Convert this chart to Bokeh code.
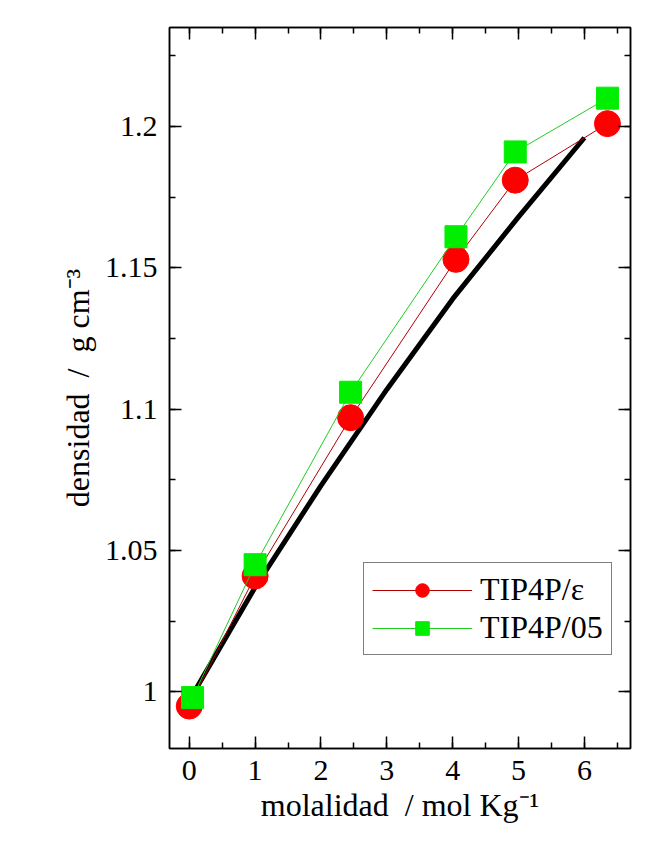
from bokeh.plotting import figure
from bokeh.models import (SingleIntervalTicker, LinearAxis, CustomJSTickFormatter,
                          Legend, LegendItem, Range1d)
from bokeh.embed import file_html
from bokeh.resources import INLINE

# Data
exp_m = [0, 1, 2, 3, 4, 5, 6]
exp_rho = [0.997, 1.037, 1.073, 1.107, 1.139, 1.168, 1.196]

eps_m = [0.0, 1.0, 2.45, 4.05, 4.95, 6.35]
eps_rho = [0.995, 1.041, 1.097, 1.153, 1.181, 1.201]

t05_m = [0.05, 1.0, 2.45, 4.05, 4.95, 6.35]
t05_rho = [0.998, 1.045, 1.106, 1.161, 1.191, 1.210]

series_names = ["TIP4P/\u03b5", "TIP4P/05"]
x_label = "molalidad\u00a0\u00a0/ mol Kg\u207b\u00b9"
y_label = "densidad\u00a0\u00a0/\u00a0\u00a0g cm\u207b\u00b3"

FONT = "Liberation Serif"

p = figure(width=655, height=843, output_backend="svg", toolbar_location=None,
           x_range=Range1d(-0.3, 6.7), y_range=Range1d(0.98, 1.235),
           min_border_left=169, min_border_right=25, min_border_top=27,
           min_border_bottom=95)
p.background_fill_color = "white"
p.border_fill_color = "white"
p.outline_line_color = "black"
p.outline_line_width = 1.5
p.xgrid.visible = False
p.ygrid.visible = False

xt = SingleIntervalTicker(interval=1, num_minor_ticks=2)
yt = SingleIntervalTicker(interval=0.05, num_minor_ticks=2)
yfmt = CustomJSTickFormatter(code="return tick.toFixed(2).replace(/\\.?0+$/, '');")
blank = CustomJSTickFormatter(code="return '';")


def style_axis(ax, labels=True):
    ax.major_tick_in = 12
    ax.major_tick_out = 0
    ax.minor_tick_in = 6
    ax.minor_tick_out = 0
    ax.major_tick_line_color = "black"
    ax.minor_tick_line_color = "black"
    ax.major_tick_line_width = 1.5
    ax.minor_tick_line_width = 1.5
    ax.axis_line_color = "black"
    ax.axis_line_width = 1.5
    ax.major_label_text_font = FONT
    ax.major_label_text_color = "black"
    ax.axis_label_text_font = FONT
    ax.axis_label_text_font_style = "normal"
    ax.axis_label_text_color = "black"
    ax.major_label_text_font_size = "30px"
    ax.axis_label_text_font_size = "32px"
    ax.major_label_standoff = 12 if labels else 0


p.xaxis.ticker = xt
p.yaxis.ticker = yt
p.yaxis.formatter = yfmt
p.xaxis.axis_label = x_label
p.yaxis.axis_label = y_label
style_axis(p.xaxis[0])
style_axis(p.yaxis[0])
p.xaxis.axis_label_standoff = 4
p.yaxis.axis_label_standoff = 6

top = LinearAxis(ticker=xt, formatter=blank)
style_axis(top, labels=False)
p.add_layout(top, "above")
right = LinearAxis(ticker=yt, formatter=blank)
style_axis(right, labels=False)
p.add_layout(right, "right")

# Experimental line
p.line(exp_m, exp_rho, line_color="black", line_width=5)

# TIP4P/eps
l1 = p.line(eps_m, eps_rho, line_color="#b00000", line_width=1)
s1 = p.scatter(eps_m, eps_rho, marker="circle", size=26, fill_color="#ff0000",
               line_color="#ff0000")
# TIP4P/05
l2 = p.line(t05_m, t05_rho, line_color="#22cc22", line_width=1)
s2 = p.scatter(t05_m, t05_rho, marker="square", size=22, fill_color="#00ee00",
               line_color="#00ee00")

legend = Legend(items=[LegendItem(label=series_names[0], renderers=[l1, s1]),
                       LegendItem(label=series_names[1], renderers=[l2, s2])],
                location=(194, 93))
legend.label_text_font = FONT
legend.label_text_font_size = "32px"
legend.label_text_color = "black"
legend.glyph_width = 100
legend.glyph_height = 34
legend.label_height = 34
legend.spacing = 1
legend.padding = 8
legend.margin = 0
legend.label_standoff = 8
legend.border_line_color = "black"
legend.border_line_width = 1.5
legend.background_fill_color = "white"
legend.background_fill_alpha = 1
p.add_layout(legend, "center")

open("out.html", "w").write(file_html(p, INLINE))
